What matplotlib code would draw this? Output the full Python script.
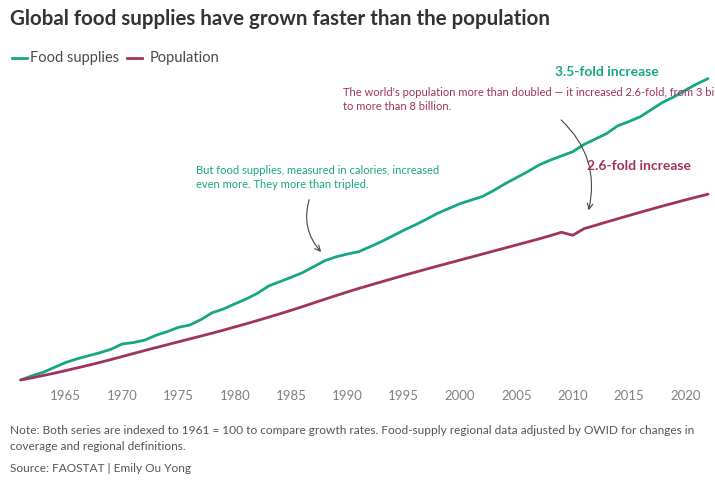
import matplotlib
matplotlib.use("Agg")
import matplotlib.pyplot as plt

years = list(range(1961, 2023))
food = [
    100, 103.5, 106.4, 110.5, 114.5, 117.5, 120, 122.5, 125.4, 129.8,
    131, 133, 137, 140, 143.6, 145.5, 150, 155.7, 158.8, 163,
    167, 171.7, 177.8, 181.4, 185, 188.8, 193.8, 198.8, 202, 204.3,
    206.2, 210.3, 214.5, 219.2, 224, 228.3, 233, 238, 242, 246,
    249, 252, 257, 262.5, 267.5, 272.5, 278, 282, 285.5, 289,
    295, 299.5, 304, 310.5, 314, 318, 324, 330, 334.5, 340,
    345, 349.5,
]
population = [
    100, 101.8, 103.7, 105.7, 107.8, 110.0, 112.2, 114.5, 116.9, 119.4,
    121.9, 124.4, 126.8, 129.2, 131.6, 134.0, 136.4, 138.8, 141.3, 143.9,
    146.5, 149.2, 152.0, 154.8, 157.7, 160.7, 163.8, 166.9, 169.9, 172.9,
    175.8, 178.5, 181.2, 183.9, 186.6, 189.2, 191.8, 194.3, 196.8, 199.3,
    201.8, 204.3, 206.8, 209.3, 211.8, 214.3, 216.8, 219.5, 222.3, 219.8,
    225.3, 228.0, 230.8, 233.5, 236.2, 238.9, 241.5, 244.1, 246.6, 249.1,
    251.5, 253.8,
]
tick_years = list(range(1965, 2021, 5))

GREEN = "#17a683"
PURPLE = "#a0325f"
FONT = "Lato"

W, H = 715, 484
fg = plt.figure(figsize=(W / 100, H / 100), dpi=100)
ax = fg.add_axes([20.7 / W, 1 - 380 / H, (708 - 20.7) / W, (380 - 78) / H])

ax.plot(years, food, c=GREEN, lw=2, clip_on=False, solid_capstyle="round")
ax.plot(years, population, c=PURPLE, lw=2, clip_on=False, solid_capstyle="round")
ax.set_xlim(1961, 2022)
ax.set_ylim(100, 350)
for s in ax.spines.values():
    s.set_visible(False)
ax.set_yticks([])
ax.set_xticks(tick_years)
ax.set_xticklabels([str(y) for y in tick_years], fontsize=9.5, color="#808080", family=FONT)
ax.tick_params(axis="x", length=0, pad=7)


def fx(px):
    return px / W


def fy(py):
    return 1 - py / H


# ------------------------------
# Title and legend
fg.text(fx(10), fy(19), "Global food supplies have grown faster than the population",
        fontsize=14.8, fontweight="bold", color="#333", family=FONT, va="center")
fg.add_artist(plt.Line2D([fx(12), fx(27)], [fy(58), fy(58)], c=GREEN, lw=2))
fg.text(fx(30), fy(58), "Food supplies", fontsize=10.5, color="#4a4a4a", family=FONT,
        va="center")
fg.add_artist(plt.Line2D([fx(127), fx(142)], [fy(58), fy(58)], c=PURPLE, lw=2))
fg.text(fx(150), fy(58), "Population", fontsize=10.5, color="#4a4a4a", family=FONT,
        va="center")

# ------------------------------
# Annotations
fg.text(fx(555), fy(72), "3.5-fold increase", fontsize=10, fontweight="bold",
        color=GREEN, family=FONT, va="center")
fg.text(fx(587), fy(166), "2.6-fold increase", fontsize=10, fontweight="bold",
        color=PURPLE, family=FONT, va="center")
fg.text(fx(343), fy(92),
        "The world's population more than doubled \u2014 it increased 2.6-fold, from 3 billion",
        fontsize=8, color=PURPLE, family=FONT, va="center")
fg.text(fx(343), fy(106), "to more than 8 billion.",
        fontsize=8, color=PURPLE, family=FONT, va="center")
fg.text(fx(196), fy(170), "But food supplies, measured in calories, increased",
        fontsize=8, color=GREEN, family=FONT, va="center")
fg.text(fx(196), fy(185), "even more. They more than tripled.",
        fontsize=8, color=GREEN, family=FONT, va="center")

ax.annotate("", xy=(fx(323), fy(254)), xycoords="figure fraction",
            xytext=(fx(310), fy(197)), textcoords="figure fraction",
            arrowprops=dict(arrowstyle="->", color="#444", lw=0.8,
                            connectionstyle="arc3,rad=0.3"))
ax.annotate("", xy=(fx(588), fy(213)), xycoords="figure fraction",
            xytext=(fx(559), fy(118)), textcoords="figure fraction",
            arrowprops=dict(arrowstyle="->", color="#444", lw=0.8,
                            connectionstyle="arc3,rad=-0.3"))

# ------------------------------
# Notes
note_kw = dict(fontsize=8.6, color="#555", family=FONT, va="center")
fg.text(fx(10), fy(430),
        "Note: Both series are indexed to 1961 = 100 to compare growth rates. "
        "Food-supply regional data adjusted by OWID for changes in", **note_kw)
fg.text(fx(10), fy(447), "coverage and regional definitions.", **note_kw)
fg.text(fx(10), fy(468), "Source: FAOSTAT | Emily Ou Yong", **note_kw)

fg.savefig("out.png", dpi=100)
